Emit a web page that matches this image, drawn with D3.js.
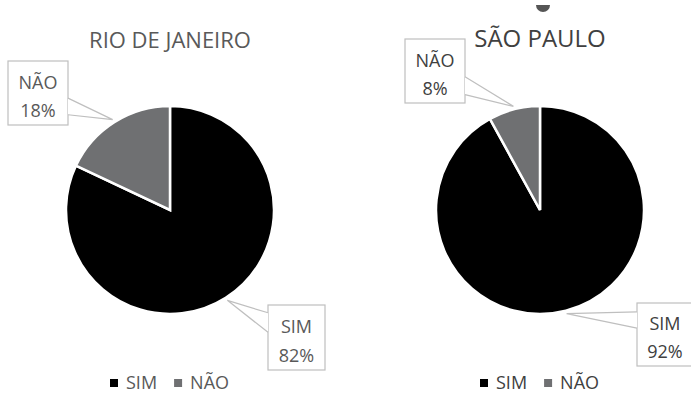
<!DOCTYPE html>
<html>
<head>
<meta charset="utf-8">
<script src="https://cdn.jsdelivr.net/npm/d3@7"></script>
<style>
  body { margin: 0; background: #fff; }
  svg { font-family: "Open Sans", sans-serif; }
</style>
</head>
<body>
<svg id="chart" width="691" height="393"></svg>
<script>
// data
var cities = ["RIO DE JANEIRO", "SÃO PAULO"];
var categories = ["SIM", "NÃO"];
var rioValues = [82, 18];
var spValues = [92, 8];

var colors = {"SIM": "#000000", "NÃO": "#6f7072"};

// layout for each panel
var panels = [
    {
        title: cities[0], values: rioValues, cx: 170, cy: 210, r: 104,
        titleY: 48, titleSize: 22, text: "#595959", legendX: 110,
        boxes: {
            "NÃO": {x: 8, y: 61, w: 60, h: 64, side: "right", a: 0.58, b: 0.84},
            "SIM": {x: 268, y: 305, w: 57, h: 65, side: "left", a: 0.12, b: 0.42}
        }
    },
    {
        title: cities[1], values: spValues, cx: 540, cy: 210, r: 104,
        titleY: 47, titleSize: 24, text: "#404040", legendX: 480,
        boxes: {
            "NÃO": {x: 405, y: 39, w: 60, h: 64, side: "right", a: 0.59, b: 0.87},
            "SIM": {x: 637, y: 303, w: 56, h: 63, side: "left", a: 0.14, b: 0.40}
        }
    }
];

var svg = d3.select("#chart");

var pie = d3.pie().sort(null).value(function (d) { return d.value; });

panels.forEach(function (p) {
    var g = svg.append("g");
    var data = categories.map(function (c, i) { return {cat: c, value: p.values[i]}; });
    var arcs = pie(data);
    var arc = d3.arc().innerRadius(0).outerRadius(p.r);

    g.append("text")
        .attr("x", p.cx).attr("y", p.titleY)
        .attr("text-anchor", "middle")
        .attr("fill", p.text)
        .style("font-size", p.titleSize + "px")
        .text(p.title);

    var pg = g.append("g").attr("transform", "translate(" + p.cx + "," + p.cy + ")");
    pg.selectAll("path")
        .data(arcs)
        .enter()
        .append("path")
        .attr("d", arc)
        .attr("fill", function (d) { return colors[d.data.cat]; })
        .attr("stroke", "#fff")
        .attr("stroke-width", 2.5);

    // callout labels
    arcs.forEach(function (d) {
        var b = p.boxes[d.data.cat];
        var mid = (d.startAngle + d.endAngle) / 2;
        var tip = [p.cx + (p.r + 3) * Math.sin(mid), p.cy - (p.r + 3) * Math.cos(mid)];
        var bx = b.side === "right" ? b.x + b.w : b.x;
        var y1 = b.y + b.a * b.h, y2 = b.y + b.b * b.h;

        g.append("rect")
            .attr("x", b.x).attr("y", b.y)
            .attr("width", b.w).attr("height", b.h)
            .attr("fill", "#fff")
            .attr("stroke", "#bfbfbf")
            .attr("stroke-width", 1.2);
        g.append("path")
            .attr("d", "M" + bx + "," + y1 + "L" + tip[0] + "," + tip[1] + "L" + bx + "," + y2)
            .attr("fill", "#fff")
            .attr("stroke", "#bfbfbf")
            .attr("stroke-width", 1.2);

        var t = g.append("text")
            .attr("text-anchor", "middle")
            .attr("fill", p.text)
            .style("font-size", "18px");
        t.append("tspan").attr("x", b.x + b.w / 2).attr("y", b.y + b.h * 0.43).text(d.data.cat);
        t.append("tspan").attr("x", b.x + b.w / 2).attr("y", b.y + b.h * 0.87).text(d.data.value + "%");
    });

    // legend
    var lg = g.append("g").attr("transform", "translate(" + p.legendX + ",383)");
    var xo = 0;
    categories.forEach(function (c) {
        lg.append("rect")
            .attr("x", xo).attr("y", -4)
            .attr("width", 8).attr("height", 8)
            .attr("fill", colors[c]);
        var t = lg.append("text")
            .attr("x", xo + 16).attr("y", 5.5)
            .attr("fill", p.text)
            .style("font-size", "18px")
            .text(c);
        xo += 16 + t.node().getComputedTextLength() + 17;
    });
});

// partial mark cut off at the top of the picture
svg.append("path")
    .attr("d", d3.arc().innerRadius(0).outerRadius(7).startAngle(Math.PI / 2).endAngle(Math.PI * 1.5))
    .attr("transform", "translate(543,5)")
    .attr("fill", "#555");
</script>
</body>
</html>
